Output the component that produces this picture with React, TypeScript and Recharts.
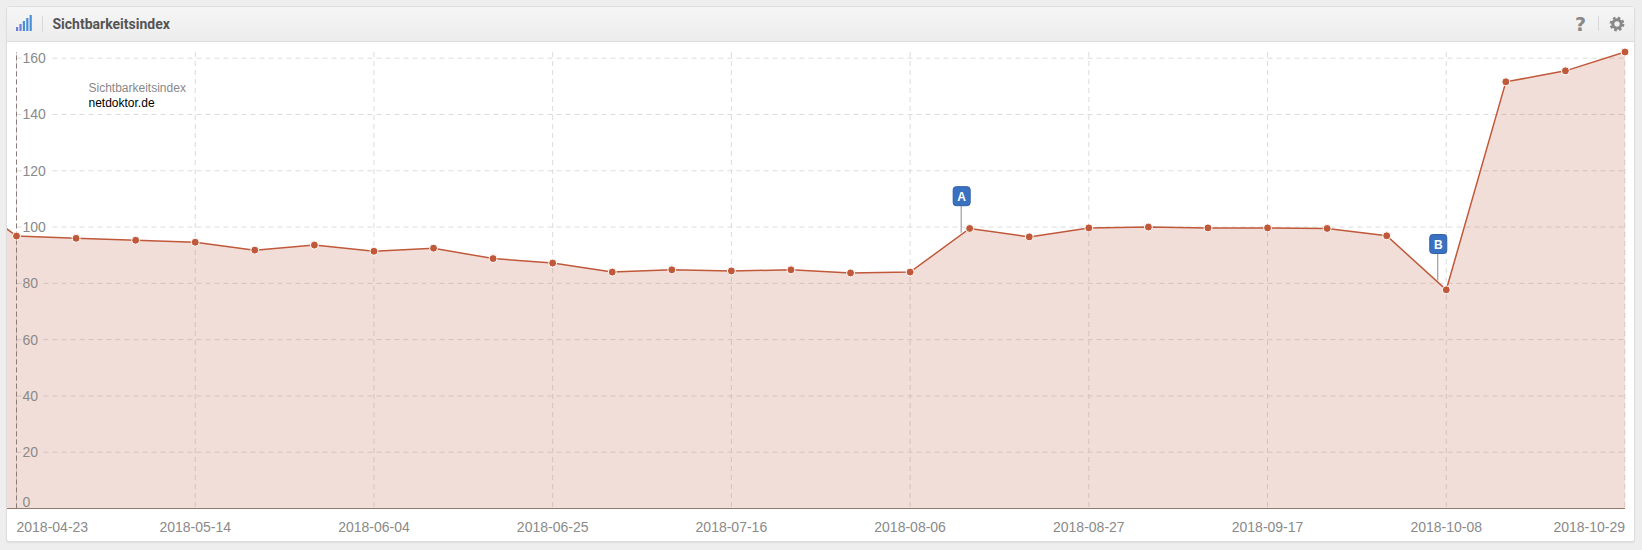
import { Area, AreaChart, CartesianGrid, ReferenceDot, ReferenceLine, XAxis, YAxis } from "recharts";

const dates = [
  "2018-04-16", "2018-04-23", "2018-04-30", "2018-05-07", "2018-05-14", "2018-05-21", "2018-05-28",
  "2018-06-04", "2018-06-11", "2018-06-18", "2018-06-25", "2018-07-02", "2018-07-09", "2018-07-16",
  "2018-07-23", "2018-07-30", "2018-08-06", "2018-08-13", "2018-08-20", "2018-08-27", "2018-09-03",
  "2018-09-10", "2018-09-17", "2018-09-24", "2018-10-01", "2018-10-08", "2018-10-15", "2018-10-22",
  "2018-10-29",
];
const values = [
  112.5, 96.8, 96, 95.3, 94.6, 91.8, 93.6, 91.4, 92.5, 88.8, 87.2, 84, 84.8, 84.4, 84.8, 83.7, 84,
  99.5, 96.5, 99.7, 100, 99.7, 99.7, 99.5, 96.9, 77.7, 151.6, 155.5, 162.2,
];
const xTickDates = [
  "2018-04-23", "2018-05-14", "2018-06-04", "2018-06-25", "2018-07-16", "2018-08-06", "2018-08-27",
  "2018-09-17", "2018-10-08", "2018-10-29",
];
const yTicks = [0, 20, 40, 60, 80, 100, 120, 140, 160];
const flagLabels = ["A", "B"];
const flagDates = ["2018-08-13", "2018-10-08"];
const flagValues = [98, 81];

const LINE = "#c0583a";
const DAY = 86400000;
const ts = (d: string) => Date.parse(d + "T00:00:00Z");

const data = dates.map((d, i) => ({ t: ts(d), value: values[i] }));
const xTicks = xTickDates.map(ts);
// the first week is cut off by the panel edge, 9.5px of 59.57px per week stays visible
const xMin = ts("2018-04-23") - (7 * DAY * 9.5) / 59.57;

function XTick({ x, y, payload }: any) {
  const label = new Date(payload.value).toISOString().slice(0, 10);
  const i = xTickDates.indexOf(label);
  const anchor = i === 0 ? "start" : i === xTickDates.length - 1 ? "end" : "middle";
  return (
    <text x={x} y={y + 15} textAnchor={anchor} fontSize={14} fill="#8a8a8a" fontFamily="Liberation Sans">
      {label}
    </text>
  );
}

function YTick({ y, payload }: any) {
  const bg = payload.value >= 100 ? "#fff" : "#f2ded8";
  const dy = payload.value === 0 ? -7 : 0;
  return (
    <g>
      {payload.value > 0 && <rect x={15} y={y - 8} width={payload.value >= 100 ? 28 : 20} height={16} fill={bg} />}
      <text x={15.5} y={y + dy + 5} fontSize={14} fill="#8a8a8a" fontFamily="Liberation Sans">
        {payload.value}
      </text>
    </g>
  );
}

function Flag({ cx, cy, label }: any) {
  return (
    <g>
      <line x1={cx - 8.5} x2={cx - 8.5} y1={cy} y2={cy - 27} stroke="#8c8c8c" strokeWidth={1} />
      <rect x={cx - 16.5} y={cy - 46} width={17} height={19} rx={3} fill="#3a71c1" stroke="#2f5fa6" />
      <text x={cx - 8} y={cy - 32} textAnchor="middle" fontSize={12} fontWeight="bold" fill="#fff" fontFamily="Liberation Sans">
        {label}
      </text>
    </g>
  );
}

export default function App() {
  return (
    <div style={{ position: "absolute", left: 0, top: 0, width: 1642, height: 550, background: "#eeeeee", overflow: "hidden" }}>
      <div
        style={{
          position: "absolute",
          left: 6,
          top: 6,
          width: 1629,
          height: 536,
          background: "#fff",
          border: "1px solid #dedede",
          borderRadius: 3,
          boxSizing: "border-box",
          boxShadow: "0 1px 1px #ddd",
        }}
      />
      <div
        style={{
          position: "absolute",
          left: 7,
          top: 7,
          width: 1627,
          height: 34,
          background: "linear-gradient(#f6f6f6, #ececec)",
          borderBottom: "1px solid #dcdcdc",
        }}
      />
      <svg style={{ position: "absolute", left: 14, top: 14 }} width={22} height={20}>
        {[0, 1, 2, 3, 4].map((i) => (
          <rect key={i} x={2 + i * 3.4} y={13 - i * 3} width={2.2} height={4 + i * 3} fill={i < 2 ? "#6f7fd6" : "#4a90d9"} />
        ))}
      </svg>
      <div style={{ position: "absolute", left: 42, top: 16, width: 1, height: 16, background: "#d8d8d8" }} />
      <div style={{ position: "absolute", left: 52.5, top: 16, fontFamily: "Roboto", fontWeight: 700, fontSize: 14, color: "#555" }}>
        Sichtbarkeitsindex
      </div>
      <div style={{ position: "absolute", left: 1575, top: 13, fontFamily: "DejaVu Sans", fontWeight: 700, fontSize: 19, color: "#888" }}>?</div>
      <div style={{ position: "absolute", left: 1598, top: 16, width: 1, height: 15, background: "#d8d8d8" }} />
      <svg style={{ position: "absolute", left: 1609, top: 16 }} width={16} height={16}>
        <circle cx={8} cy={8} r={4.2} fill="none" stroke="#888" strokeWidth={3} />
        <circle cx={8} cy={8} r={6.2} fill="none" stroke="#888" strokeWidth={2.4} strokeDasharray="2.6 2.27" />
      </svg>

      <div style={{ position: "absolute", left: 7, top: 41 }}>
        <AreaChart width={1628} height={501} data={data} margin={{ top: 11, right: 10, bottom: 0, left: 0 }}>
          <CartesianGrid stroke="#dcdcdc" strokeDasharray="5 4" x={9.5} width={1608.5} syncWithTicks />
          <XAxis
            dataKey="t"
            type="number"
            domain={[xMin, ts("2018-10-29")]}
            allowDataOverflow
            ticks={xTicks}
            interval={0}
            height={33.5}
            stroke="#8f7a70"
            tickLine={false}
            tick={<XTick />}
          />
          <ReferenceLine x={ts("2018-04-23")} stroke="#8a7d77" strokeDasharray="5 3" />
          <Area
            type="linear"
            dataKey="value"
            stroke={LINE}
            strokeWidth={1.5}
            fill={LINE}
            fillOpacity={0.2}
            dot={{ r: 4, fill: LINE, stroke: "#fff", strokeWidth: 1, fillOpacity: 1, clipDot: false }}
            activeDot={false}
            isAnimationActive={false}
          />
          <YAxis
            type="number"
            domain={[0, 162.2]}
            ticks={yTicks}
            interval={0}
            width={1}
            mirror
            axisLine={false}
            tickLine={false}
            tick={<YTick />}
          />
          {flagLabels.map((label, i) => (
            <ReferenceDot
              key={label}
              x={ts(flagDates[i])}
              y={flagValues[i]}
              shape={(props: any) => <Flag {...props} label={label} />}
            />
          ))}
        </AreaChart>
      </div>

      <div style={{ position: "absolute", left: 88.5, top: 81, fontFamily: "Liberation Sans", fontSize: 12, color: "#888" }}>
        Sichtbarkeitsindex
      </div>
      <div style={{ position: "absolute", left: 88.5, top: 96, fontFamily: "Liberation Sans", fontSize: 12, color: "#000" }}>
        netdoktor.de
      </div>
    </div>
  );
}
